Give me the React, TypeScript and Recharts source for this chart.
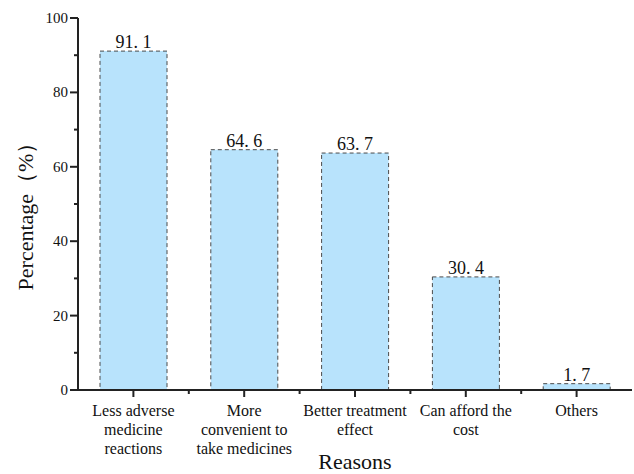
import { BarChart, Bar, XAxis, YAxis, LabelList } from 'recharts';

// categories along the x axis ("\n" marks a line break in the tick label)
const reasons = [
  'Less adverse\nmedicine\nreactions',
  'More\nconvenient to\ntake medicines',
  'Better treatment\neffect',
  'Can afford the\ncost',
  'Others',
];

// percentage of respondents per reason
const percentages = [91.1, 64.6, 63.7, 30.4, 1.7];

// y ticks: majors get labels, minors are short marks only
const yTicks = [0, 10, 20, 30, 40, 50, 60, 70, 80, 90, 100];
const yLabelled = [0, 20, 40, 60, 80, 100];

const data = reasons.map((name, i) => ({ name, value: percentages[i] }));
const serif = '"Liberation Serif", "Times New Roman", serif';
const axisStyle = { stroke: '#222', strokeWidth: 2 };

const YTick = (props: any) => {
  const { x, y, payload } = props;
  const major = yLabelled.includes(payload.value);
  return (
    <g>
      <path d={`M${x},${y}H${x - (major ? 8 : 4)}`} stroke="#222" strokeWidth={2} fill="none" />
      {major && (
        <text x={x - 10} y={y} dy={5} textAnchor="end" fontSize={15} fontFamily={serif} fill="#111">
          {payload.value}
        </text>
      )}
    </g>
  );
};

const XTick = (props: any) => {
  const { x, y, payload, index } = props;
  const half = payload.offset || 55;
  const lines = String(payload.value).split('\n');
  return (
    <g>
      <path d={`M${x},${y}V${y + 7}`} stroke="#222" strokeWidth={2} fill="none" />
      {index < reasons.length - 1 && (
        <path d={`M${x + half},${y}V${y + 4}`} stroke="#222" strokeWidth={2} fill="none" />
      )}
      <text x={x} y={y + 26} textAnchor="middle" fontSize={16} fontFamily={serif} fill="#111">
        {lines.map((l, i) => (
          <tspan key={i} x={x} dy={i === 0 ? 0 : 19}>
            {l}
          </tspan>
        ))}
      </text>
    </g>
  );
};

const fmt = (v: any) => String(v).replace('.', '. ');

export default function App() {
  return (
    <div style={{ position: 'absolute', left: 0, top: 0, background: '#fff' }}>
      <BarChart width={634} height={474} data={data} margin={{ top: 18, right: 2, bottom: 0, left: 0 }}>
        <XAxis
          dataKey="name"
          height={84}
          tickSize={0}
          tickMargin={0}
          tickLine={false}
          interval={0}
          axisLine={axisStyle}
          tick={<XTick />}
          label={{
            content: ({ viewBox }: any) => (
              <text x={viewBox.x + viewBox.width / 2} y={viewBox.y + 79} textAnchor="middle" fontSize={22} fontFamily={serif} fill="#111">
                Reasons
              </text>
            ),
          }}
        />
        {/* top and right edges of the frame */}
        <XAxis xAxisId="top" dataKey="name" orientation="top" height={0} tick={false} tickLine={false} axisLine={axisStyle} />
        <YAxis
          width={78}
          domain={[0, 100]}
          ticks={yTicks}
          interval={0}
          tickSize={0}
          tickMargin={0}
          tickLine={false}
          axisLine={axisStyle}
          tick={<YTick />}
          label={{
            content: ({ viewBox }: any) => {
              const cx = viewBox.x + 33;
              const cy = viewBox.y + viewBox.height / 2 + 7;
              return (
                <text x={cx} y={cy} transform={`rotate(-90 ${cx} ${cy})`} textAnchor="middle" fontSize={22} fontFamily={serif} fill="#111">
                  Percentage（%）
                </text>
              );
            },
          }}
        />
        <YAxis yAxisId="right" orientation="right" width={0} domain={[0, 100]} tick={false} tickLine={false} axisLine={axisStyle} />
        <Bar dataKey="value" barSize={67} fill="#B8E3FC" stroke="#4a4a4a" strokeWidth={1} strokeDasharray="4 3" isAnimationActive={false}>
          <LabelList dataKey="value" position="top" offset={3} formatter={fmt} style={{ fontSize: 18, fontFamily: serif, fill: '#111' }} />
        </Bar>
      </BarChart>
    </div>
  );
}
